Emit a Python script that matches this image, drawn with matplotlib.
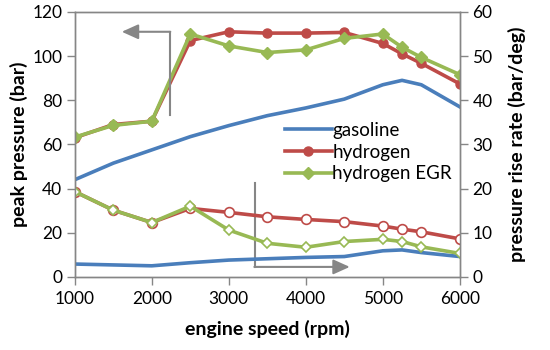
import numpy as np
import matplotlib.pyplot as plt

plt.rcParams['font.family'] = ['Lato', 'DejaVu Sans']

# ---- data -------------------------------------------------------------------
rpm = [1000, 1500, 2000, 2500, 3000, 3500, 4000, 4500, 5000, 5250, 5500, 6000]

# peak pressure (bar), left axis
gas_peak = [44, 51.5, 57.5, 63.5, 68.5, 73, 76.5, 80.5, 87, 89, 87, 77]
h2_peak = [63, 69, 70.5, 107, 111, 110.4, 110.4, 110.7, 105.7, 101, 96.7, 87.4]
egr_peak = [63.3, 68.6, 70.5, 110, 104.6, 101.6, 102.8, 108, 110, 104, 99.4, 91.6]

# pressure rise rate (bar/deg), right axis
gas_rise = [2.9, 2.7, 2.5, 3.2, 3.8, 4.1, 4.4, 4.6, 5.9, 6.1, 5.5, 4.6]
h2_rise = [19.3, 15.1, 12.3, 15.5, 14.6, 13.6, 13.0, 12.5, 11.5, 10.8, 10.2, 8.6]
egr_rise = [19.3, 15.1, 12.3, 16.0, 10.6, 7.6, 6.7, 8.0, 8.5, 8.0, 6.8, 5.3]

blue = '#4A7EBB'
red = '#BE4B48'
green = '#98B954'
grey = '#868686'

fig = plt.figure(figsize=(5.5, 3.5), dpi=100)
ax = fig.add_axes([0.136, 0.209, 0.700, 0.757])
ax2 = ax.twinx()

# upper curves (left axis)
ax.plot(rpm, gas_peak, color=blue, lw=2.6, label='gasoline')
ax.plot(rpm, h2_peak, color=red, lw=2.6, marker='o', ms=6.5, label='hydrogen')
ax.plot(rpm, egr_peak, color=green, lw=2.6, marker='D', ms=6.5, label='hydrogen EGR')

# lower curves (right axis), open markers
ax2.plot(rpm, gas_rise, color=blue, lw=2.6)
ax2.plot(rpm, h2_rise, color=red, lw=2.6, marker='o', ms=7, mfc='white', mew=1.2)
ax2.plot(rpm, egr_rise, color=green, lw=2.6, marker='D', ms=5.5, mfc='white', mew=1.2)

ax.set_xlim(1000, 6000)
ax.set_ylim(0, 120)
ax2.set_ylim(0, 60)
ax.set_xticks(range(1000, 6001, 1000))
ax.set_yticks(range(0, 121, 20))
ax2.set_yticks(range(0, 61, 10))

for a in (ax, ax2):
    for s in a.spines.values():
        s.set_color(grey)
        s.set_linewidth(1.0)
    a.tick_params(colors=grey, labelcolor='black', labelsize=12.5, length=5.5, width=1.0)
ax.tick_params(axis='x', pad=5)

ax.set_xlabel('engine speed (rpm)', fontsize=14, fontweight='bold', labelpad=9)
ax.set_ylabel('peak pressure (bar)', fontsize=14, fontweight='bold', labelpad=3)
ax2.set_ylabel('pressure rise rate (bar/deg)', fontsize=14, fontweight='bold', labelpad=11)

# axis pointer arrows
ax.plot([2234, 2234], [73.5, 111], color=grey, lw=1.5)
ax.annotate('', xy=(1610, 111), xytext=(2240, 111),
            arrowprops=dict(arrowstyle='-|>,head_length=1.0,head_width=0.45',
                            color=grey, lw=1.5, shrinkA=0, shrinkB=0))
ax.plot([3338, 3338], [4.5, 42.4], color=grey, lw=1.5)
ax.annotate('', xy=(4571, 4.5), xytext=(3332, 4.5),
            arrowprops=dict(arrowstyle='-|>,head_length=1.0,head_width=0.45',
                            color=grey, lw=1.5, shrinkA=0, shrinkB=0))

ax.legend(loc='upper left', bbox_to_anchor=(0.545, 0.585), frameon=False,
          fontsize=13.5, handlelength=2.5, handletextpad=0.05, labelspacing=0.25,
          borderaxespad=0, borderpad=0)

fig.savefig('out.png', dpi=100)
